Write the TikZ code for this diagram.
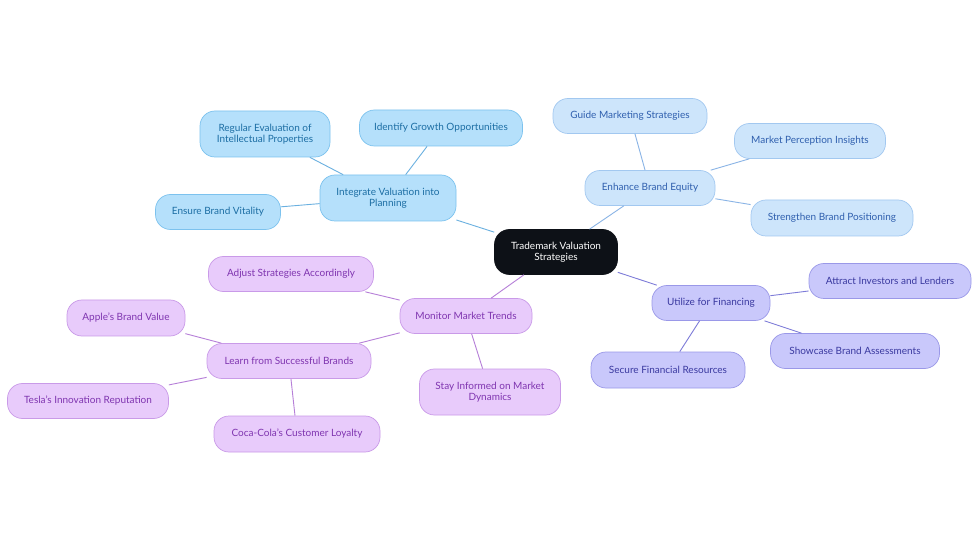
\documentclass[tikz,border=0pt]{standalone}
\usepackage{fontspec}
\setmainfont{Lato}
\definecolor{bAfill}{HTML}{B5E0FB}\definecolor{bAdraw}{HTML}{7CC2EE}\definecolor{bAtext}{HTML}{1C6EA4}\definecolor{bAedge}{HTML}{6AB0E0}
\definecolor{bBfill}{HTML}{CDE5FB}\definecolor{bBdraw}{HTML}{A2C8F0}\definecolor{bBtext}{HTML}{2F5FAE}\definecolor{bBedge}{HTML}{8AB4E6}
\definecolor{bCfill}{HTML}{C9C8FB}\definecolor{bCdraw}{HTML}{9A98E8}\definecolor{bCtext}{HTML}{3A39A0}\definecolor{bCedge}{HTML}{7D7BD8}
\definecolor{bDfill}{HTML}{E8CBFB}\definecolor{bDdraw}{HTML}{C99AE8}\definecolor{bDtext}{HTML}{7F35B0}\definecolor{bDedge}{HTML}{B67FD8}
\definecolor{rootfill}{HTML}{0D1117}
\begin{document}
\begin{tikzpicture}[x=1pt,y=-1pt,
  box/.style={rounded corners=15pt, line width=0.7pt, font=\fontsize{10}{11.5}\selectfont, align=center, inner sep=0pt, minimum height=35pt},
  ba/.style={box, fill=bAfill, draw=bAdraw, text=bAtext},
  bb/.style={box, fill=bBfill, draw=bBdraw, text=bBtext},
  bc/.style={box, fill=bCfill, draw=bCdraw, text=bCtext},
  bd/.style={box, fill=bDfill, draw=bDdraw, text=bDtext},
  two/.style={minimum height=46pt},
  ea/.style={draw=bAedge, line width=0.9pt},
  eb/.style={draw=bBedge, line width=0.9pt},
  ec/.style={draw=bCedge, line width=0.9pt},
  ed/.style={draw=bDedge, line width=0.9pt}]
\useasboundingbox (0,0) rectangle (980,553);
\fill[white] (0,0) rectangle (980,553);
% nodes
\node[box, fill=rootfill, draw=rootfill, text=white, minimum width=123pt, minimum height=45pt] (root) at (556,252) {Trademark Valuation\\Strategies};
\node[ba, two, minimum width=136pt] (integ) at (388,198) {Integrate Valuation into\\Planning};
\node[ba, two, minimum width=130pt] (regular) at (265,134) {Regular Evaluation of\\Intellectual Properties};
\node[ba, minimum width=163pt, minimum height=36pt] (growth) at (441,128) {Identify Growth Opportunities};
\node[ba, minimum width=125pt] (vital) at (218,212) {Ensure Brand Vitality};
\node[bb, minimum width=130pt] (equity) at (650,188) {Enhance Brand Equity};
\node[bb, minimum width=154pt] (guide) at (630,116) {Guide Marketing Strategies};
\node[bb, minimum width=151pt] (percep) at (810,141) {Market Perception Insights};
\node[bb, minimum width=162pt, minimum height=36pt] (strength) at (832,218) {Strengthen Brand Positioning};
\node[bc, minimum width=118pt] (financ) at (711,303) {Utilize for Financing};
\node[bc, minimum width=162pt] (attract) at (890,281) {Attract Investors and Lenders};
\node[bc, minimum width=169pt] (show) at (855,351) {Showcase Brand Assessments};
\node[bc, minimum width=154pt, minimum height=36pt] (secure) at (668,370) {Secure Financial Resources};
\node[bd, minimum width=132pt] (monitor) at (466,316) {Monitor Market Trends};
\node[bd, minimum width=165pt] (adjust) at (291,274) {Adjust Strategies Accordingly};
\node[bd, two, minimum width=141pt] (stay) at (490,392) {Stay Informed on Market\\Dynamics};
\node[bd, minimum width=164pt] (learn) at (289,361) {Learn from Successful Brands};
\node[bd, minimum width=118pt, minimum height=36pt] (apple) at (126,318) {Apple’s Brand Value};
\node[bd, minimum width=161pt] (tesla) at (88,401) {Tesla’s Innovation Reputation};
\node[bd, minimum width=166pt, minimum height=36pt] (coca) at (297,434) {Coca-Cola’s Customer Loyalty};
% edges
\path[ea] (root) -- (integ);
\path[ea] (integ) -- (regular);
\path[ea] (integ) -- (growth);
\path[ea] (integ) -- (vital);
\path[eb] (root) -- (equity);
\path[eb] (equity) -- (guide);
\path[eb] (equity) -- (percep);
\path[eb] (equity) -- (strength);
\path[ec] (root) -- (financ);
\path[ec] (financ) -- (attract);
\path[ec] (financ) -- (show);
\path[ec] (financ) -- (secure);
\path[ed] (root) -- (monitor);
\path[ed] (monitor) -- (adjust);
\path[ed] (monitor) -- (stay);
\path[ed] (monitor) -- (learn);
\path[ed] (learn) -- (apple);
\path[ed] (learn) -- (tesla);
\path[ed] (learn) -- (coca);
\end{tikzpicture}
\end{document}
